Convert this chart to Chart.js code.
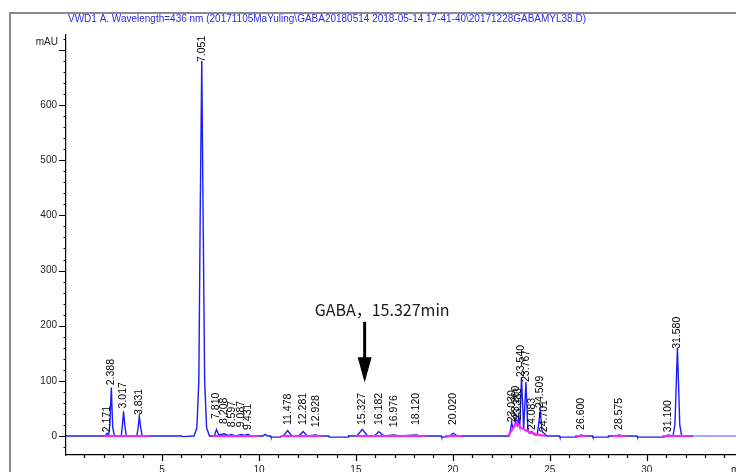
<!DOCTYPE html>
<html lang="zh">
<head>
<meta charset="UTF-8">
<title>VWD1 A. Wavelength=436 nm - GABA</title>
<script src="https://cdn.jsdelivr.net/npm/chart.js"></script>
<style>
  html, body { margin: 0; padding: 0; background: #fff; }
  #wrap { width: 736px; height: 472px; }
</style>
</head>
<body>
<div id="wrap"><canvas id="chrom" width="736" height="472"></canvas></div>
<script>
  // retention time (min) and signal (mAU)
  const traceTime = [0.05, 1.95, 2.08, 2.171, 2.25, 2.31, 2.388, 2.46, 2.55, 2.9, 2.96, 3.017, 3.08, 3.16, 3.7, 3.77, 3.831, 3.9, 3.98,
    6.0, 6.1, 6.65, 6.8, 6.9, 6.97, 7.051, 7.12, 7.2, 7.3, 7.45, 7.7, 7.81, 7.93, 8.208, 8.4, 8.597, 8.8, 9.087, 9.25, 9.431, 9.6,
    10.2, 10.32, 10.45, 10.6, 10.62, 11.1, 11.25, 11.478, 11.7, 12.05, 12.281, 12.5, 12.928, 13.1, 13.6, 13.62, 14.6, 14.62,
    15.05, 15.327, 15.6, 15.95, 16.182, 16.45, 16.976, 17.2, 18.12, 18.3, 19.4, 19.42, 19.8, 20.02, 20.25,
    22.9, 22.98, 23.03, 23.1, 23.2, 23.26, 23.32, 23.383, 23.45, 23.54, 23.65, 23.767, 23.87, 23.95, 24.083, 24.2, 24.35, 24.509, 24.6, 24.701, 24.85,
    25.5, 25.52, 26.4, 26.6, 26.8, 27.2, 27.22, 28.0, 28.02, 28.4, 28.575, 28.8, 29.5, 29.52, 30.9, 31.1, 31.35, 31.45, 31.58, 31.7, 31.8,
    32.4, 33.0, 33.5, 34.6];
  const traceSignal = [0, 0, 1, 5, 2, 20, 88, 15, 0, 0, 20, 45, 20, 0, 0, 15, 36, 15, 0,
    0, -1, 0, 15, 100, 400, 680, 400, 100, 15, 0, 0, 12, 2, 4, 1, 3, 0, 3, 1, 3, 0,
    0, 3, 0, 0, -2, -2, 0, 10, 0, 0, 8, 0, 2, 0, 0, -2, -2, 0,
    0, 12, 0, 0, 8, 0, 2, 0, 2, 0, 0, -2, -1, 5, 0,
    0, 12, 25, 14, 20, 35, 20, 30, 18, 107, 12, 98, 10, 5, 8, 2, 2, 45, 8, 5, 0,
    0, -2, -2, 2, 0, 0, -2, -2, 0, 0, 2, 0, 0, -2, -2, 2, 0, 20, 160, 20, 0,
    0, 0, 0, 0];

  // integration baseline segments (pink), null = gap
  const baseTime = [2.0, 4.35, 4.36, 7.6, 9.95, 9.96, 11.1, 13.2, 13.21, 15.0, 18.6, 18.61, 19.6, 20.5, 20.51,
    22.85, 23.3, 23.5, 23.9, 24.3, 24.8, 24.81, 26.3, 26.9, 26.91, 28.2, 28.9, 28.91, 30.8, 32.3];
  const baseSignal = [0, 0, null, 0, 0, null, 0, 0, null, 0, 0, null, 0, 0, null,
    0, 25, 15, 8, 3, 0, null, 0, 0, null, 0, 0, null, 0, 0];

  // peak retention-time labels and the level (mAU) where each label starts
  const peakTimes = [2.171, 2.388, 3.017, 3.831, 7.051, 7.810, 8.208, 8.597, 9.087, 9.431, 11.478, 12.281, 12.928,
    15.327, 16.182, 16.976, 18.120, 20.020, 23.030, 23.260, 23.383, 23.540, 23.767, 24.083, 24.509, 24.701,
    26.600, 28.575, 31.100, 31.580];
  const peakLabelAt = [7, 92, 50, 38, 678, 31, 22, 16, 16, 11, 20, 20, 16,
    20, 20, 16, 20, 20, 25, 33, 29, 107, 98, 11, 51, 7,
    11, 11, 7, 158];

  const titleText = 'VWD1 A. Wavelength=436 nm (20171105MaYuling\\GABA20180514 2018-05-14 17-41-40\\20171228GABAMYL38.D)';
  const gabaNote = 'GABA，15.327min';
  const gabaArrow = { time: 15.45, from: 207, headAt: 143, to: 97, textTime: 12.88, textAt: 229 };

  const xMin = 0.05, xMax = 34.6;
  const yMin = -34.4, yMax = 727;

  const blue = '#1c1cf5';
  const pink = '#ff22ff';
  const tickFont = '10px "Liberation Sans", Arial, sans-serif';

  const decorations = {
    id: 'decorations',
    afterDraw(chart) {
      const ctx = chart.ctx;
      const xs = chart.scales.x, ys = chart.scales.y;
      const area = chart.chartArea;
      ctx.save();

      // outer frame
      ctx.strokeStyle = '#8a8a8a';
      ctx.lineWidth = 2;
      ctx.beginPath();
      ctx.moveTo(10, 472);
      ctx.lineTo(10, 13);
      ctx.lineTo(736, 13);
      ctx.stroke();

      // title
      ctx.fillStyle = '#2b2be0';
      ctx.font = '11px "Liberation Sans", Arial, sans-serif';
      ctx.textAlign = 'left';
      ctx.textBaseline = 'middle';
      ctx.fillText(titleText, 68, 19, 518);

      // axis tick marks
      ctx.strokeStyle = '#000';
      ctx.lineWidth = 1.2;
      ctx.beginPath();
      for (let v = -20; v <= 720; v += 20) {
        const y = Math.round(ys.getPixelForValue(v)) + 0.5;
        const len = v % 100 === 0 ? 7 : 2.5;
        ctx.moveTo(area.left - len, y);
        ctx.lineTo(area.left, y);
      }
      for (let t = 1; t <= 34; t++) {
        const x = Math.round(xs.getPixelForValue(t)) + 0.5;
        const len = t % 5 === 0 ? 6 : 3;
        ctx.moveTo(x, area.bottom);
        ctx.lineTo(x, area.bottom + len);
      }
      ctx.stroke();

      ctx.fillStyle = '#222';
      ctx.font = tickFont;
      ctx.textAlign = 'right';
      ctx.fillText('mAU', area.left - 8, 42);
      ctx.textAlign = 'left';
      ctx.fillText('min', 731, 470);

      // peak labels
      ctx.fillStyle = '#000';
      ctx.font = '10.5px "Liberation Sans", Arial, sans-serif';
      ctx.textBaseline = 'middle';
      peakTimes.forEach((t, i) => {
        const x = xs.getPixelForValue(t);
        const y = ys.getPixelForValue(peakLabelAt[i]);
        ctx.save();
        ctx.translate(x, y);
        ctx.rotate(-Math.PI / 2);
        ctx.textAlign = 'left';
        ctx.fillText(t.toFixed(3), 0, 0);
        ctx.restore();
      });

      // GABA note and arrow
      const ax = xs.getPixelForValue(gabaArrow.time);
      ctx.fillStyle = '#1a1a1a';
      ctx.font = '16px "Noto Sans CJK SC", "Noto Sans", sans-serif';
      ctx.textAlign = 'left';
      ctx.fillText(gabaNote, xs.getPixelForValue(gabaArrow.textTime), ys.getPixelForValue(gabaArrow.textAt), 139);
      ctx.strokeStyle = '#000';
      ctx.lineWidth = 3;
      ctx.beginPath();
      ctx.moveTo(ax, ys.getPixelForValue(gabaArrow.from));
      ctx.lineTo(ax, ys.getPixelForValue(gabaArrow.headAt) + 2);
      ctx.stroke();
      const hy = ys.getPixelForValue(gabaArrow.headAt);
      ctx.fillStyle = '#000';
      ctx.beginPath();
      ctx.moveTo(ax - 7, hy);
      ctx.lineTo(ax + 7, hy);
      ctx.lineTo(ax, ys.getPixelForValue(gabaArrow.to));
      ctx.closePath();
      ctx.fill();

      ctx.restore();
    }
  };

  new Chart(document.getElementById('chrom'), {
    type: 'line',
    data: {
      datasets: [
        {
          label: 'baseline',
          data: baseTime.map((t, i) => ({ x: t, y: baseSignal[i] })),
          borderColor: pink,
          borderWidth: 2.2,
          pointRadius: 0,
          spanGaps: false,
          tension: 0
        },
        {
          label: 'VWD1 A',
          data: traceTime.map((t, i) => ({ x: t, y: traceSignal[i] })),
          borderColor: blue,
          borderWidth: 1.4,
          pointRadius: 0,
          tension: 0,
          segment: {
            borderColor: c => c.p0.parsed.x >= 32.4 ? '#8c8cff' : blue
          }
        }
      ]
    },
    options: {
      responsive: false,
      animation: false,
      layout: { padding: { top: 35, left: 0, right: 0, bottom: 0 } },
      plugins: { legend: { display: false }, tooltip: { enabled: false } },
      scales: {
        x: {
          type: 'linear',
          min: xMin,
          max: xMax,
          afterFit: s => { s.height = 17; s.paddingLeft = 0; s.paddingRight = 0; },
          grid: { display: false, drawTicks: false },
          border: { display: true, color: '#000', width: 1.2 },
          ticks: {
            stepSize: 1,
            includeBounds: false,
            autoSkip: false,
            maxRotation: 0,
            padding: 9,
            color: '#222',
            font: { family: '"Liberation Sans", Arial, sans-serif', size: 10 },
            callback: v => (v % 5 === 0 && v > 0) ? String(v) : ''
          }
        },
        y: {
          min: yMin,
          max: yMax,
          afterFit: s => { s.width = 66; s.paddingTop = 0; s.paddingBottom = 0; },
          grid: { display: false, drawTicks: false },
          border: { display: true, color: '#000', width: 1.2 },
          ticks: {
            stepSize: 20,
            includeBounds: false,
            autoSkip: false,
            padding: 9,
            color: '#222',
            font: { family: '"Liberation Sans", Arial, sans-serif', size: 10 },
            callback: v => (v % 100 === 0 && v >= 0 && v < 700) ? String(v) : ''
          }
        }
      }
    },
    plugins: [decorations]
  });
</script>
</body>
</html>
